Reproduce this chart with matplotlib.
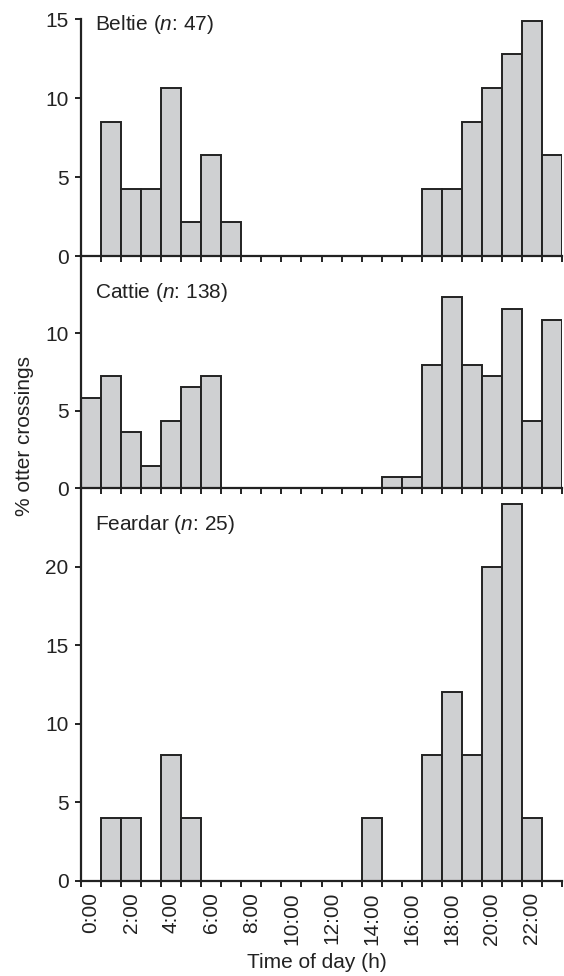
import matplotlib
matplotlib.use("Agg")
import matplotlib.pyplot as plt
import numpy as np

plt.rcParams['font.family'] = ['Liberation Sans', 'DejaVu Sans']
plt.rcParams['mathtext.fontset'] = 'custom'
plt.rcParams['mathtext.rm'] = 'Liberation Sans'
plt.rcParams['mathtext.it'] = 'Liberation Sans:italic'

hours = list(range(24))
tick_labels = ["0:00", "2:00", "4:00", "6:00", "8:00", "10:00",
               "12:00", "14:00", "16:00", "18:00", "20:00", "22:00"]

sites = ["Beltie", "Cattie", "Feardar"]
n_obs = [47, 138, 25]

beltie = [0, 8.51, 4.26, 4.26, 10.64, 2.13, 6.38, 2.13, 0, 0, 0, 0,
          0, 0, 0, 0, 0, 4.26, 4.26, 8.51, 10.64, 12.77, 14.89, 6.38]
cattie = [5.80, 7.25, 3.62, 1.45, 4.35, 6.52, 7.25, 0, 0, 0, 0, 0,
          0, 0, 0, 0.72, 0.72, 7.97, 12.32, 7.97, 7.25, 11.59, 4.35, 10.87]
feardar = [0, 4, 4, 0, 8, 4, 0, 0, 0, 0, 0, 0,
           0, 0, 4, 0, 0, 8, 12, 8, 20, 24, 4, 0]

series = [beltie, cattie, feardar]
ylims = [15, 15, 25]
yticks = [[0, 5, 10, 15], [0, 5, 10], [0, 5, 10, 15, 20]]

W, H = 564, 976
fig = plt.figure(figsize=(W / 100, H / 100), dpi=100)

# panel pixel extents (top, bottom) from top of figure
panels_px = [(19, 256), (256, 488), (488, 881)]
left_px, right_px = 81, 562

text_col = '#222222'
fill_col = '#cfd0d2'
edge_col = '#222222'
label_y_px = [24, 293, 525]
fs = 15

for i, (vals, (t, b)) in enumerate(zip(series, panels_px)):
    ax = fig.add_axes([left_px / W, 1 - b / H, (right_px - left_px) / W, (b - t) / H])
    ax.patch.set_alpha(0)
    ax.bar(np.array(hours) + 0.5, vals, width=1.0, color=fill_col,
           edgecolor=edge_col, linewidth=1.4, zorder=2)
    ax.set_xlim(0, 24)
    ax.set_ylim(0, ylims[i])
    ax.spines['top'].set_visible(False)
    ax.spines['right'].set_visible(False)
    for s in ['left', 'bottom']:
        ax.spines[s].set_linewidth(1.6)
        ax.spines[s].set_color(edge_col)
        ax.spines[s].set_zorder(3)
    ax.set_yticks(yticks[i])
    ax.set_yticklabels([str(v) for v in yticks[i]], fontsize=fs, color=text_col)
    ax.tick_params(axis='y', direction='out', length=4, width=1.4,
                   color=edge_col, pad=5)
    ax.set_xticks(np.arange(0, 25, 1))
    ax.set_xticklabels([])
    ax.tick_params(axis='x', which='major', direction='out', length=4,
                   width=1.4, color=edge_col)
    ax.set_xticks(np.arange(0, 24, 2) + 0.5, minor=True)
    if i == 2:
        ax.set_xticklabels(tick_labels, minor=True, rotation=90,
                           fontsize=fs, color=text_col, va='top', ha='center')
        ax.tick_params(axis='x', which='minor', length=0, pad=8)
    else:
        ax.tick_params(axis='x', which='minor', length=0, labelbottom=False)
    fig.text(95 / W, 1 - label_y_px[i] / H,
             r"%s ($n$: %d)" % (sites[i], n_obs[i]),
             fontsize=fs, color=text_col, ha='left', va='center')

fig.text(25 / W, 1 - 436 / H, "% otter crossings", rotation=90,
         fontsize=fs, color=text_col, ha='center', va='center')
fig.text(317 / W, 1 - 963 / H, "Time of day (h)",
         fontsize=fs, color=text_col, ha='center', va='center')

fig.savefig("out.png", dpi=100)
